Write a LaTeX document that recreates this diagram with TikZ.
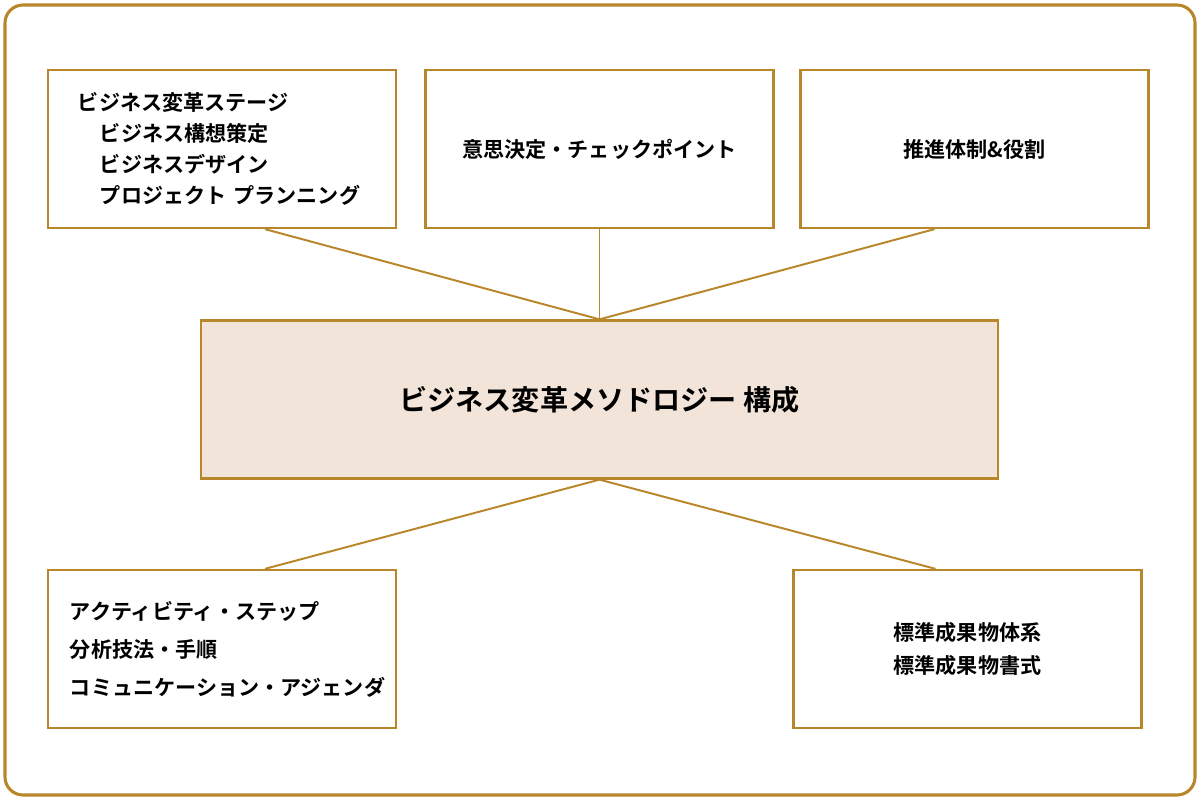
\documentclass[tikz,border=0pt]{standalone}
\usepackage{fontspec}
\setmainfont{Noto Sans CJK JP Bold}
\usetikzlibrary{positioning,calc}
\definecolor{frame}{HTML}{B8862B}
\definecolor{core}{HTML}{F2E4D8}
\tikzset{
  box/.style={rectangle, draw=frame, line width=1.6pt, minimum width=8.7cm, minimum height=3.95cm, font=\fontsize{15}{22}\selectfont},
  link/.style={draw=frame, line width=1.4pt}
}
\begin{document}
\begin{tikzpicture}[x=0.025cm, y=-0.025cm]
\useasboundingbox (0,0) rectangle (1200,800);
\draw[frame, line width=2.2pt, rounded corners=0.45cm] (5,5) rectangle (1195,795);
\node[box, text width=7.2cm, inner xsep=0.75cm, align=left] (stage) at (222,149) {ビジネス変革ステージ\\\hspace*{0.55cm}ビジネス構想策定\\\hspace*{0.55cm}ビジネスデザイン\\\hspace*{0.55cm}プロジェクト プランニング};
\node[box, align=center] (check) at (599.5,149) {意思決定・チェックポイント};
\node[box, align=center] (role) at (974.5,149) {推進体制\&役割};
\node[box, fill=core, minimum width=19.925cm, font=\fontsize{20}{24}\selectfont] (core) at (599.5,399.5) {ビジネス変革メソドロジー 構成};
\node[box, text width=7.6cm, inner xsep=0.55cm, align=left, font=\fontsize{15}{27}\selectfont] (act) at (222,649) {アクティビティ・ステップ\\分析技法・手順\\コミュニケーション・アジェンダ};
\node[box, align=center, font=\fontsize{15}{24}\selectfont] (std) at (967.5,649) {標準成果物体系\\標準成果物書式};
\draw[link] ($(stage.south)+(43,0)$) -- (core.north);
\draw[link] (check.south) -- (core.north);
\draw[link] ($(role.south)+(-40,0)$) -- (core.north);
\draw[link] (core.south) -- ($(act.north)+(43,0)$);
\draw[link] (core.south) -- ($(std.north)+(-32,0)$);
\end{tikzpicture}
\end{document}
